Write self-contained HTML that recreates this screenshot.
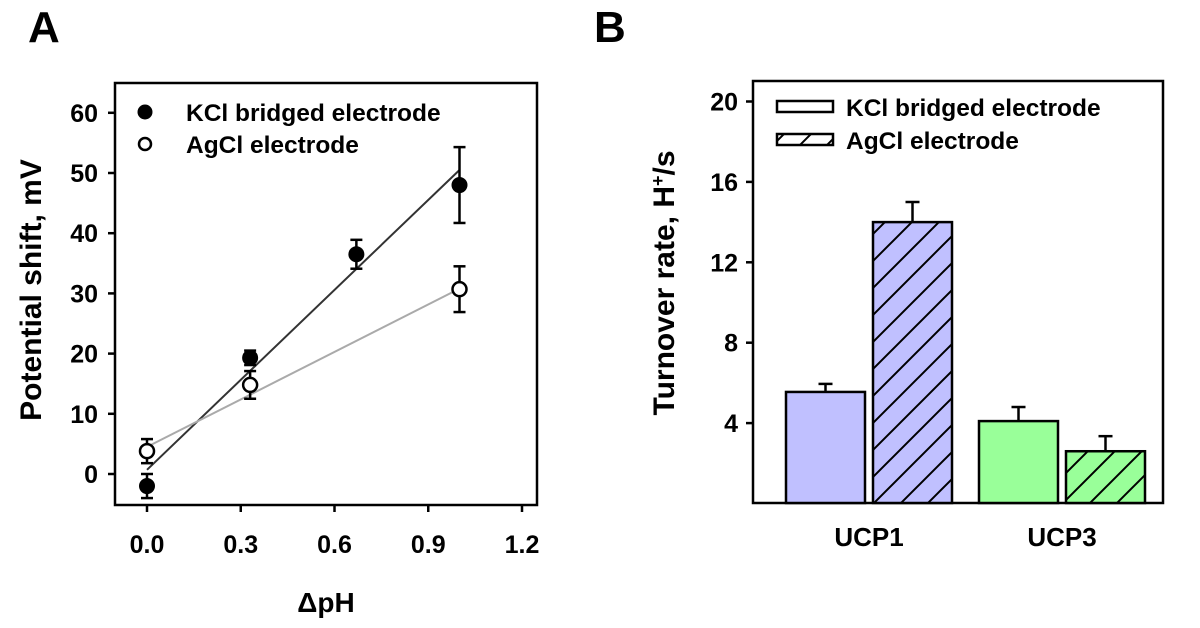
<!DOCTYPE html>
<html><head><meta charset="utf-8"><style>
body{margin:0;background:#fff;width:1200px;height:623px;overflow:hidden}
svg{font-family:"Liberation Sans",Arial,sans-serif;font-weight:bold}
</style></head><body>
<svg id="s" width="1200" height="623" xmlns="http://www.w3.org/2000/svg">
<defs>
<pattern id="hatch" patternUnits="userSpaceOnUse" width="27" height="27" patternTransform="translate(0,0)">
<path d="M-3,30 L30,-3 M-3,3 L3,-3 M24,30 L30,24" stroke="#000" stroke-width="2"/>
</pattern>
</defs>
<text x="28" y="42" font-size="44">A</text>
<text x="594" y="42" font-size="44">B</text>
<g id="pa"></g>
<g id="pb"></g>
</svg>
<script>
const NS="http://www.w3.org/2000/svg";
// Panel A data
const phX=[0,0.33,0.67,1.0];
const kclY=[-2,19.3,36.5,48];
const kclErr=[2,1.2,2.4,6.3];
const agX=[0,0.33,1.0];
const agY=[3.8,14.8,30.7];
const agErr=[2,2.3,3.8];
const kclFit=[0.7,50.5];
const agFit=[4.5,30.8];
const xTicks=[0.0,0.3,0.6,0.9,1.2];
const xTickLabels=["0.0","0.3","0.6","0.9","1.2"];
const yTicks=[0,10,20,30,40,50,60];
// Panel B data
const groups=["UCP1","UCP3"];
const kclBars=[5.55,4.1];
const kclBarErr=[0.4,0.7];
const agBars=[14,2.6];
const agBarErr=[1,0.75];
const bTicks=[4,8,12,16,20];

function el(t,a,p){const e=document.createElementNS(NS,t);for(const k in a)e.setAttribute(k,a[k]);p.appendChild(e);return e;}
const pa=document.getElementById('pa'),pb=document.getElementById('pb');
const ax=v=>147+312.5*v, ay=v=>474-6.02*v;

let fr=el('rect',{x:115,y:83,width:422,height:422,fill:'none',stroke:'#000','stroke-width':2.5},pa);


yTicks.forEach(v=>{
 let l=el('line',{x1:108,x2:115,y1:ay(v),y2:ay(v),stroke:'#000','stroke-width':2.5},pa);
 
 
 let t=el('text',{x:98,y:ay(v)+9,'font-size':25,'text-anchor':'end'},pa);t.textContent=v;
 
 
});
xTicks.forEach((v,i)=>{
 let l=el('line',{x1:ax(v),x2:ax(v),y1:505,y2:512,stroke:'#000','stroke-width':2.5},pa);
 
 
 let t=el('text',{x:ax(v),y:553,'font-size':25,'text-anchor':'middle'},pa);t.textContent=xTickLabels[i];
 
 
});
let xt=el('text',{x:326,y:612,'font-size':28,'text-anchor':'middle'},pa);xt.textContent='ΔpH';


let yt=el('text',{x:0,y:0,'font-size':30,'text-anchor':'middle',transform:'translate(41,290) rotate(-90)'},pa);yt.textContent='Potential shift, mV';


let f1=el('line',{x1:ax(0),y1:ay(kclFit[0]),x2:ax(1),y2:ay(kclFit[1]),stroke:'#333','stroke-width':2},pa);


let f2=el('line',{x1:ax(0),y1:ay(agFit[0]),x2:ax(1),y2:ay(agFit[1]),stroke:'#aaa','stroke-width':2},pa);


function errbar(p,x,y,e,nm){
 const g=el('g',{stroke:'#000','stroke-width':2.5},p);
 
 
 el('line',{x1:x,x2:x,y1:y-e,y2:y+e},g);
 el('line',{x1:x-6,x2:x+6,y1:y-e,y2:y-e},g);
 el('line',{x1:x-6,x2:x+6,y1:y+e,y2:y+e},g);
}
agX.forEach((v,i)=>{
 errbar(pa,ax(v),ay(agY[i]),agErr[i]*6.02,'agcl-error-bar');
 let c=el('circle',{cx:ax(v),cy:ay(agY[i]),r:7,fill:'#fff',stroke:'#000','stroke-width':2.5},pa);
 
 
});
phX.forEach((v,i)=>{
 errbar(pa,ax(v),ay(kclY[i]),kclErr[i]*6.02,'kcl-error-bar');
 let c=el('circle',{cx:ax(v),cy:ay(kclY[i]),r:8,fill:'#000'},pa);
 
 
});
let lg1=el('circle',{cx:145,cy:112,r:7.5,fill:'#000'},pa);


let lt1=el('text',{x:186,y:121,'font-size':24.5},pa);lt1.textContent='KCl bridged electrode';


let lg2=el('circle',{cx:145,cy:144,r:6,fill:'#fff',stroke:'#000','stroke-width':2.5},pa);


let lt2=el('text',{x:186,y:153,'font-size':24.5},pa);lt2.textContent='AgCl electrode';



// Panel B
const by=v=>503.5-20.1*v;
const colors=['#c0c0ff','#99ff99'];
const gx=[786,979];
const bw=79,gap=8;
let fb=el('path',{d:'M753,81 V503 H1163 V81 Z',fill:'none',stroke:'#000','stroke-width':2.5},pb);


bTicks.forEach(v=>{
 let l=el('line',{x1:746,x2:753,y1:by(v),y2:by(v),stroke:'#000','stroke-width':2.5},pb);
 
 
 let t=el('text',{x:738,y:by(v)+9,'font-size':25,'text-anchor':'end'},pb);t.textContent=v;
 
 
});
let byt=el('text',{x:0,y:0,'font-size':30,'text-anchor':'middle',transform:'translate(674,283) rotate(-90)'},pb);
byt.innerHTML='Turnover rate, H<tspan baseline-shift="super" font-size="18">+</tspan>/s';


function bar(x,v,e,col,hatch,nm){
 const y=by(v);
 const g=el('g',{},pb);
 
 
 el('line',{x1:x+bw/2,x2:x+bw/2,y1:y,y2:by(v+e),stroke:'#000','stroke-width':2.5},g);
 el('line',{x1:x+bw/2-7,x2:x+bw/2+7,y1:by(v+e),y2:by(v+e),stroke:'#000','stroke-width':2.5},g);
 el('rect',{x:x,y:y,width:bw,height:503-y,fill:col},g);
 if(hatch)el('rect',{x:x,y:y,width:bw,height:503-y,fill:'url(#hatch)'},g);
 el('rect',{x:x,y:y,width:bw,height:503-y,fill:'none',stroke:'#000','stroke-width':2.5},g);
}
groups.forEach((gname,i)=>{
 bar(gx[i],kclBars[i],kclBarErr[i],colors[i],false,'bar-'+gname.toLowerCase()+'-kcl');
 bar(gx[i]+bw+gap,agBars[i],agBarErr[i],colors[i],true,'bar-'+gname.toLowerCase()+'-agcl');
 let t=el('text',{x:gx[i]+bw+gap/2,y:546,'font-size':26,'text-anchor':'middle'},pb);t.textContent=gname;
 
 
});
let lb1=el('rect',{x:777,y:101,width:56,height:11,fill:'#fff',stroke:'#000','stroke-width':2.5},pb);


let lbt1=el('text',{x:846,y:116,'font-size':24.5},pb);lbt1.textContent='KCl bridged electrode';


let lb2=el('rect',{x:777,y:134,width:56,height:11,fill:'url(#hatch)',stroke:'#000','stroke-width':2.5},pb);


let lbt2=el('text',{x:846,y:149,'font-size':24.5},pb);lbt2.textContent='AgCl electrode';


</script>
</body></html>
